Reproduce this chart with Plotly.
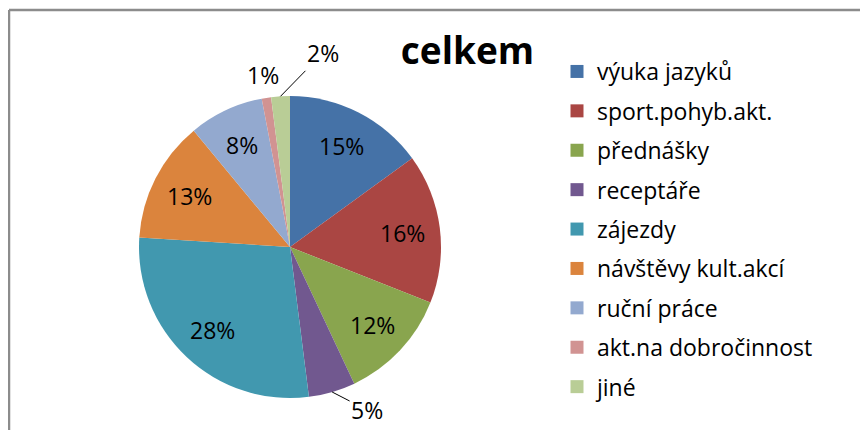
import math
import plotly.graph_objects as go

# The page body adds an 8 px margin, so the figure is 8 px smaller than the window.
W, H = 860, 422

categories = ["výuka jazyků", "sport.pohyb.akt.", "přednášky", "receptáře", "zájezdy",
              "návštěvy kult.akcí", "ruční práce", "akt.na dobročinnost", "jiné"]
values = [15, 16, 12, 5, 28, 13, 8, 1, 2]
colors = ["#4572A7", "#AA4643", "#89A54E", "#71588F", "#4198AF",
          "#DB843D", "#93A9CF", "#D19392", "#B9CD96"]
title_text = "celkem"

FONT = "Open Sans"

# pie geometry (figure pixels)
CX, CY, R = 282, 239, 151

# label placement style per slice: ('in', k) inside at k*R; ('out', ax, ay, arrow)
label_style = [("in",), ("in",), ("in",), ("out", 35, 18, True), ("in",),
               ("in",), ("in",), ("free", 1.15), ("out", 42, -43, True)]


def px(x):
    return x / W


def py(y):
    return 1 - y / H


fig = go.Figure()
fig.add_trace(go.Pie(
    labels=categories, values=values, sort=False, direction="clockwise", rotation=0,
    marker=dict(colors=colors, line=dict(width=0)),
    textinfo="none", showlegend=False, hoverinfo="label+percent",
    domain=dict(x=[px(CX - R), px(CX + R)], y=[py(CY + R), py(CY - R)]),
))

# percentage labels computed from the values
total = sum(values)
annotations = []
cum = 0
for v, st in zip(values, label_style):
    mid = (cum + v / 2) / total * 2 * math.pi
    cum += v
    pct = f"{round(v / total * 100):d}%"
    s, c = math.sin(mid), math.cos(mid)
    if st[0] == "in":
        k = 0.75
        annotations.append(dict(x=px(CX + k * R * s), y=py(CY - k * R * c), xref="paper", yref="paper",
                                text=pct, showarrow=False, xanchor="center", yanchor="middle",
                                font=dict(family=FONT, size=23, color="#000000")))
    elif st[0] == "free":
        k = st[1]
        annotations.append(dict(x=px(CX + k * R * s), y=py(CY - k * R * c), xref="paper", yref="paper",
                                text=pct, showarrow=False, xanchor="center", yanchor="middle",
                                font=dict(family=FONT, size=23, color="#000000")))
    else:
        annotations.append(dict(x=px(CX + R * s), y=py(CY - R * c), xref="paper", yref="paper",
                                text=pct, showarrow=True, ax=st[1], ay=st[2], arrowhead=0,
                                arrowwidth=1, arrowcolor="#000000", standoff=0,
                                font=dict(family=FONT, size=23, color="#000000")))

# legend entries (one group each so the vertical gap can be set)
for i, (c, col) in enumerate(zip(categories, colors)):
    fig.add_trace(go.Scatter(
        x=[None], y=[None], mode="markers", name=c, legendgroup=str(i),
        marker=dict(symbol="square", size=13, color=col),
        showlegend=True, hoverinfo="skip",
    ))

fig.update_layout(
    width=W, height=H,
    margin=dict(l=0, r=0, t=0, b=0),
    paper_bgcolor="white", plot_bgcolor="white",
    xaxis=dict(visible=False), yaxis=dict(visible=False),
    title=dict(text="<b>" + title_text + "</b>", x=px(459.5), xanchor="center",
               y=py(43), yanchor="middle", yref="container",
               font=dict(family=FONT, size=37, color="#000000")),
    legend=dict(x=px(549), xanchor="left", y=py(42), yanchor="top",
                font=dict(family=FONT, size=23, color="#000000"),
                tracegroupgap=6.5, itemclick=False, bgcolor="rgba(0,0,0,0)"),
    annotations=annotations,
    shapes=[
        dict(type="line", xref="paper", yref="paper", x0=px(1), x1=1, y0=py(2), y1=py(2),
             line=dict(color="#8C8C8C", width=2.5)),
        dict(type="line", xref="paper", yref="paper", x0=px(1), x1=px(1), y0=0, y1=py(2),
             line=dict(color="#8C8C8C", width=2.5)),
    ],
)

fig.write_html("out.html")
